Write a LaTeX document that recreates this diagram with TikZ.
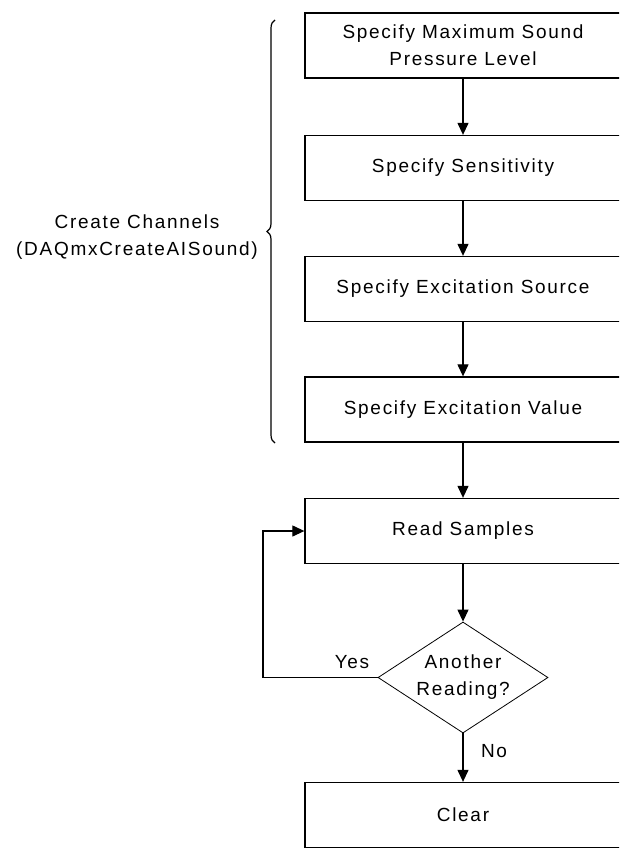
\documentclass[tikz,border=0pt]{standalone}
\usepackage{fontspec}
\setmainfont{Liberation Sans}[LetterSpace=9]
\usepackage{tikz}
\usetikzlibrary{arrows.meta,shapes.geometric,decorations.pathreplacing}
\tikzset{
    every node/.style={font=\fontsize{19}{27}\selectfont},
    stepbox/.style={rectangle,draw,line width=1.3pt,minimum width=316pt,minimum height=65pt,align=center,inner sep=0pt},
    decision/.style={diamond,draw,line width=0.8pt,minimum width=170pt,minimum height=111pt,aspect=1.53,align=center,inner sep=0pt},
    flow/.style={draw,-{Triangle[length=12pt,width=11pt]},line width=1.2pt},
    tag/.style={inner sep=0pt,align=center}
}
\begin{document}
\begin{tikzpicture}[x=1pt,y=-1pt]
\clip (0,0) rectangle (619,848);
\fill[white] (0,0) rectangle (619,848);
\node[stepbox] (spl) at (463,45.5) {Specify Maximum Sound\\Pressure Level};
\node[stepbox] (sens) at (463,168) {Specify Sensitivity};
\node[stepbox] (exsrc) at (463,289) {Specify Excitation Source};
\node[stepbox] (exval) at (463,409.5) {Specify Excitation Value};
\node[stepbox] (read) at (463,531) {Read Samples};
\node[decision] (again) at (463,677.5) {Another\\Reading?};
\node[stepbox] (clear) at (463,815) {Clear};
\foreach \a/\b in {spl/sens,sens/exsrc,exsrc/exval,exval/read,read/again,again/clear}
    \draw[flow] (\a) -- (\b);
% loop back to the read step
\coordinate (back) at (263,677.5);
\draw[flow] (again.west) -- (back) |- (read.west);
\node[tag] (yes) at (352,662) {Yes};
\node[tag] (no) at (494,751) {No};
% brace round the channel steps
\coordinate (bracelo) at (275,443);
\coordinate (bracehi) at (275,20);
\draw[line width=1.2pt,decorate,decoration={brace,amplitude=8pt}] (bracelo) -- (bracehi);
\node[tag] (chan) at (137,237) {Create Channels\\(DAQmxCreateAISound)};
\end{tikzpicture}
\end{document}
